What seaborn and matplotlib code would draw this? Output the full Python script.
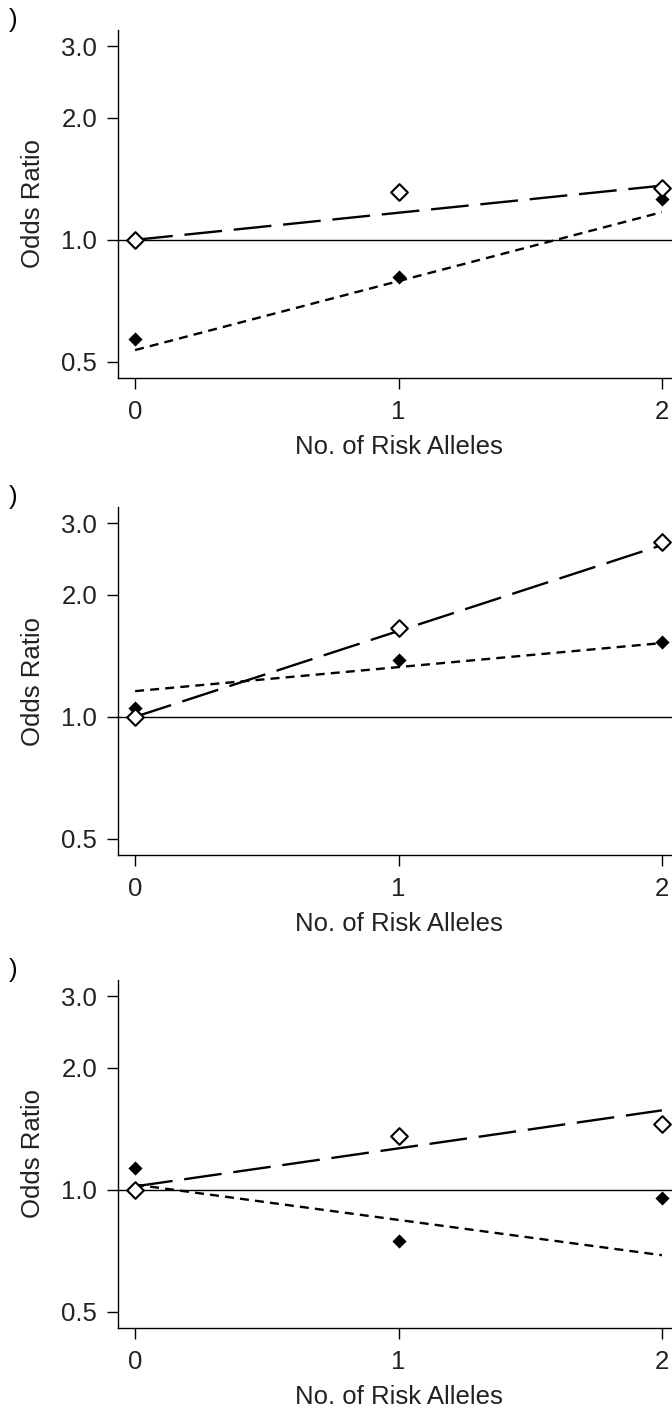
import numpy as np
import pandas as pd
import matplotlib
matplotlib.use('Agg')
import matplotlib.pyplot as plt
import seaborn as sns

# ---------------------
# data
# ---------------------
alleles = [0, 1, 2]
trend_x = [0, 2]

# open diamonds (observed OR) per panel
open_a = [1.00, 1.31, 1.34]
open_b = [1.00, 1.66, 2.70]
open_c = [1.00, 1.36, 1.45]

# filled diamonds (observed OR) per panel
filled_a = [0.57, 0.81, 1.26]
filled_b = [1.05, 1.38, 1.53]
filled_c = [1.13, 0.75, 0.955]

# fitted trend lines, value at 0 and 2 risk alleles
open_trend_a = [1.00, 1.36]
open_trend_b = [1.00, 2.65]
open_trend_c = [1.02, 1.57]
filled_trend_a = [0.535, 1.17]
filled_trend_b = [1.157, 1.52]
filled_trend_c = [1.03, 0.69]

panel_marks = [')', ')', ')']
y_ticks = [0.5, 1.0, 2.0, 3.0]
y_ticklabels = ['0.5', '1.0', '2.0', '3.0']
x_ticks = [0, 1, 2]

panels = [
    (open_a, filled_a, open_trend_a, filled_trend_a),
    (open_b, filled_b, open_trend_b, filled_trend_b),
    (open_c, filled_c, open_trend_c, filled_trend_c),
]

# ---------------------
# style
# ---------------------
sns.set_style('ticks')
plt.rcParams['font.family'] = ['Liberation Sans', 'DejaVu Sans']
plt.rcParams['axes.linewidth'] = 1.0

W, H = 672, 1411
fig = plt.figure(figsize=(W / 100, H / 100), dpi=100)

ax_left = 118
ax_width = 561
ax_height = 348
ax_tops = [30, 507, 980]

for i, (op, fl, op_tr, fl_tr) in enumerate(panels):
    top = ax_tops[i]
    ax = fig.add_axes([ax_left / W, 1 - (top + ax_height) / H,
                       ax_width / W, ax_height / H])

    trend = pd.DataFrame({
        'x': trend_x + trend_x,
        'OR': op_tr + fl_tr,
        'grp': ['open'] * 2 + ['filled'] * 2,
    })

    ax.axhline(1.0, color='black', lw=1.0, zorder=1)
    sns.lineplot(data=trend, x='x', y='OR', style='grp',
                 dashes={'open': (16, 5), 'filled': (3.8, 2.6)},
                 color='black', lw=1.7, legend=False, ax=ax,
                 estimator=None, sort=False)

    sns.scatterplot(x=alleles, y=fl, marker='D', s=52, color='black',
                    linewidth=0, ax=ax, zorder=3)
    sns.scatterplot(x=alleles, y=op, marker='D', s=72, facecolor='white',
                    edgecolor='black', linewidth=1.5, ax=ax, zorder=4)

    ax.set_yscale('log')
    ax.set_ylim(0.4565, 3.29)
    ax.set_xlim(-0.065, 2.065)
    ax.set_yticks(y_ticks)
    ax.set_yticklabels(y_ticklabels)
    ax.yaxis.set_minor_locator(matplotlib.ticker.NullLocator())
    ax.set_xticks(x_ticks)
    ax.set_xticklabels([str(v) for v in x_ticks])

    ax.tick_params(axis='both', direction='out', length=8, width=1.0,
                   labelsize=18.5, color='black', labelcolor='#222222')
    ax.tick_params(axis='y', pad=7)
    ax.tick_params(axis='x', pad=8)

    ax.set_xlabel('No. of Risk Alleles', fontsize=18.5, labelpad=8,
                  color='#222222')
    ax.set_ylabel('Odds Ratio', fontsize=18.5, labelpad=12,
                  color='#222222')

    for side in ['top', 'right']:
        ax.spines[side].set_visible(False)
    for side in ['left', 'bottom']:
        ax.spines[side].set_color('black')

    fig.text(17 / W, 1 - (top - 10) / H, panel_marks[i], ha='right',
             va='center', fontsize=18.5, color='black')

fig.savefig('out.png', dpi=100, facecolor='white')
